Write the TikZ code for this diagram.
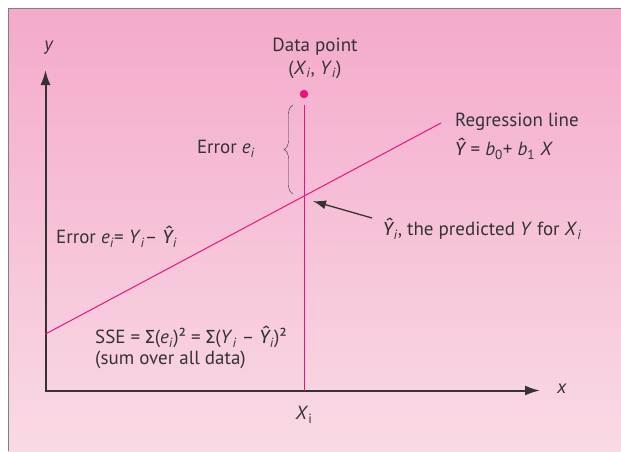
\documentclass[tikz,border=0pt]{standalone}
\usepackage{fontspec}
\setmainfont{PT Sans}
\newfontfamily\grkfont{Fira Sans}
\usetikzlibrary{arrows.meta,positioning,decorations.pathreplacing}
\definecolor{bgtop}{HTML}{F4AACB}
\definecolor{bgbot}{HTML}{F9DAE5}
\definecolor{regpink}{HTML}{E8147F}
\definecolor{ink}{HTML}{333333}
\newcommand\iv[1]{\textit{#1}}
\newcommand\lo[1]{\textsubscript{#1}}
\newcommand\yhat{{\grkfont\itshape Ŷ}}

\begin{document}
\begin{tikzpicture}[x=1pt, y=-1pt,
  lab/.style={font=\fontsize{19}{23}\selectfont, text=ink, inner sep=1pt},
  axis/.style={draw=ink, line width=2pt, {Latex[length=15pt,width=10pt]}-{Latex[length=15pt,width=10pt]}},
  reg/.style={draw=regpink, line width=1pt},
  arr/.style={draw=ink, line width=1.3pt, -{Latex[length=13pt,width=9pt]}},
  dot/.style={circle, fill=regpink, inner sep=0pt, minimum size=8.5pt}]
  % background panel
  \useasboundingbox (0,0) rectangle (621,451);
  \shade[top color=bgtop, bottom color=bgbot] (8,8) rectangle (621,451);
  \draw[gray, line width=0.8pt] (8,451) -- (8,8) -- (621,8);
  % axes
  \coordinate (O) at (45.5,390.5);
  \coordinate (ytip) at (45.5,70);
  \coordinate (xtip) at (540,390.5);
  \draw[axis] (ytip) -- (O) -- (xtip);
  \node[lab] (ylab) at (49,48) {\iv{y}};
  \node[lab] (xlab) at (562,389) {\iv{x}};
  % data point and vertical error line
  \node[dot] (pt) at (304,94) {};
  \node[lab, align=center] (ptlab) at (315,58) {Data point\\(\iv{X}\lo{\iv{i}}, \iv{Y}\lo{\iv{i}})};
  \coordinate (vtop) at (304,105);
  \coordinate (Xi) at (304,390.5);
  \draw[reg] (vtop) -- (Xi);
  \node[lab] (xilab) at (304,415) {\iv{X}\lo{i}};
  % regression line
  \coordinate (r0) at (45.5,334);
  \coordinate (r1) at (441,123);
  \draw[reg] (r0) -- (r1);
  \coordinate (hit) at (intersection of r0--r1 and vtop--Xi);
  \node[lab, anchor=west] (regname) at (454,122) {Regression line};
  \node[lab, anchor=west] (regeq) at (454,149) {\yhat{} = \iv{b}\lo{0}+ \iv{b}\lo{1} \iv{X}};
  % error brace
  \coordinate (bb) at (293,194);
  \coordinate (bt) at (293,105);
  \draw[ink, decorate, decoration={brace, amplitude=9pt}] (bb) -- (bt);
  \node[lab] (errlab) at (226,149) {Error \iv{e}\lo{\iv{i}}};
  % predicted value
  \node[lab, anchor=west] (pred) at (382,229) {\yhat\lo{\iv{i}}, the predicted \iv{Y} for \iv{X}\lo{\iv{i}}};
  \coordinate (tail) at (372,218);
  \draw[arr] (tail) -- ([shift={(9,5)}]hit);
  % formulas
  \node[lab, anchor=west] (errdef) at (55,237) {Error \iv{e}\lo{\iv{i}}= \iv{Y}\lo{\iv{i}}– \yhat\lo{\iv{i}}};
  \node[lab, anchor=west] (sse) at (94,337) {SSE = {\grkfont Σ}(\iv{e}\lo{\iv{i}})² = {\grkfont Σ}(\iv{Y}\lo{\iv{i}} – \yhat\lo{\iv{i}})²};
  \node[lab, anchor=west] (ssenote) at (94,360) {(sum over all data)};
\end{tikzpicture}
\end{document}
